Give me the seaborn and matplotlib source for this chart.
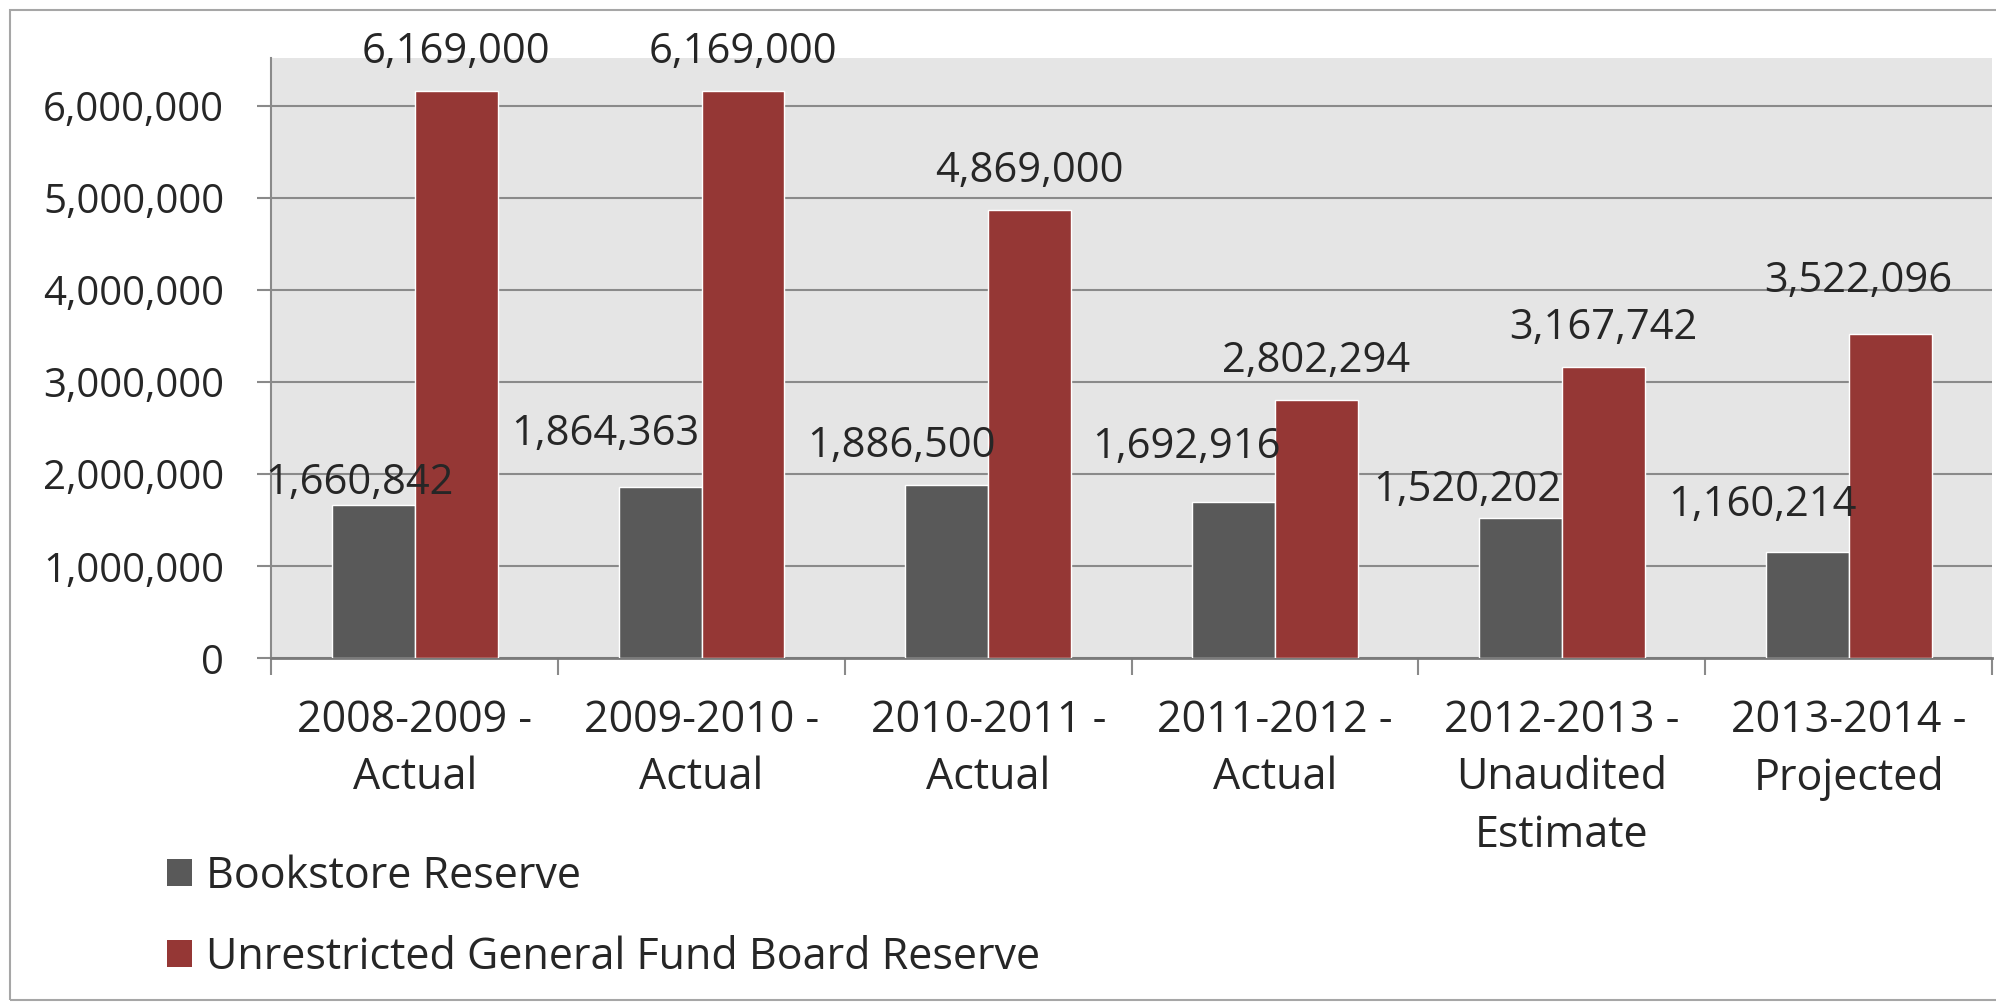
import matplotlib
matplotlib.use("Agg")
import numpy as np
import pandas as pd
import matplotlib.pyplot as plt
from matplotlib.patches import Patch, Rectangle
import seaborn as sns

# ----------------------------------------------------------
# Data
# ----------------------------------------------------------
years = ["2008-2009 -\nActual", "2009-2010 -\nActual", "2010-2011 -\nActual",
         "2011-2012 -\nActual", "2012-2013 -\nUnaudited\nEstimate",
         "2013-2014 -\nProjected"]
bookstore = [1660842, 1864363, 1886500, 1692916, 1520202, 1160214]
board_reserve = [6169000, 6169000, 4869000, 2802294, 3167742, 3522096]
series = ["Bookstore Reserve", "Unrestricted General Fund Board Reserve"]

df = pd.DataFrame({
    "year": years * 2,
    "value": bookstore + board_reserve,
    "series": [series[0]] * len(years) + [series[1]] * len(years),
})

# label offsets in pixels (Excel nudged them around to avoid overlaps)
dark_offsets = [(-14, 22), (-55, 53), (-45, 39), (-47, 55), (-53, 28), (-45, 47)]
red_offsets = [(0, 39), (0, 39), (0, 39), (0, 39), (0, 39), (-32, 53)]

colors = ["#595959", "#953735"]
FS_Y = 29
FS_LAB = 30
FS_X = 31

# ----------------------------------------------------------
# Plot
# ----------------------------------------------------------
sns.set_style("white")
plt.rcParams["font.family"] = ["Open Sans", "DejaVu Sans"]

fig = plt.figure(figsize=(19.96, 10.05), dpi=100)
ax = fig.add_axes([0.136, 0.345, 0.862, 0.597])
ax.set_facecolor("#e5e5e5")

sns.barplot(data=df, x="year", y="value", hue="series", palette=colors,
            width=0.578, saturation=1, legend=False, ax=ax, zorder=3)

ax.set_ylim(0, 6520000)
ax.set_xlim(-0.5, len(years) - 0.5)
ax.set_yticks(np.arange(0, 6000001, 1000000))
ax.yaxis.set_major_formatter(matplotlib.ticker.FuncFormatter(lambda v, p: f"{int(v):,}"))
ax.grid(axis="y", color="#8a8a8a", lw=1.5, zorder=1)
ax.set_axisbelow(True)
ax.set_xlabel("")
ax.set_ylabel("")

for s in ["top", "right"]:
    ax.spines[s].set_visible(False)
ax.spines["left"].set_color("#8a8a8a")
ax.spines["left"].set_linewidth(1.5)
ax.spines["bottom"].set_color("#7a7a7a")
ax.spines["bottom"].set_linewidth(2)

ax.tick_params(axis="y", length=10, width=1.5, color="#8a8a8a", pad=24,
               labelsize=FS_Y, left=True)
ax.tick_params(axis="x", which="major", length=0, pad=29, labelsize=FS_X)
ax.set_xticks(np.arange(-0.5, len(years)), minor=True)
ax.tick_params(axis="x", which="minor", length=12, width=1.5, color="#8a8a8a",
               bottom=True)
for lab in ax.get_xticklabels():
    lab.set_linespacing(1.38)

# data labels
for cont, offs in zip(ax.containers, [dark_offsets, red_offsets]):
    for bar, (dx, dy) in zip(cont, offs):
        h = bar.get_height()
        ax.annotate(f"{int(round(h)):,}", (bar.get_x() + bar.get_width() / 2, h),
                    xytext=(dx, dy), textcoords="offset pixels",
                    ha="center", va="center", fontsize=FS_LAB, zorder=5)

# legend
handles = [Patch(facecolor=c, edgecolor="none") for c in colors]
fig.legend(handles, series, loc="upper left", bbox_to_anchor=(0.075, 0.167),
           frameon=False, fontsize=FS_X, handlelength=0.58, handleheight=0.58,
           handletextpad=0.33, labelspacing=0.85, borderaxespad=0)

# chart border
fig.patches.append(Rectangle((0.005, 0.005), 1.2, 0.985, transform=fig.transFigure,
                             fill=False, edgecolor="#a6a6a6", lw=1.5))

fig.savefig("out.png", dpi=100)
